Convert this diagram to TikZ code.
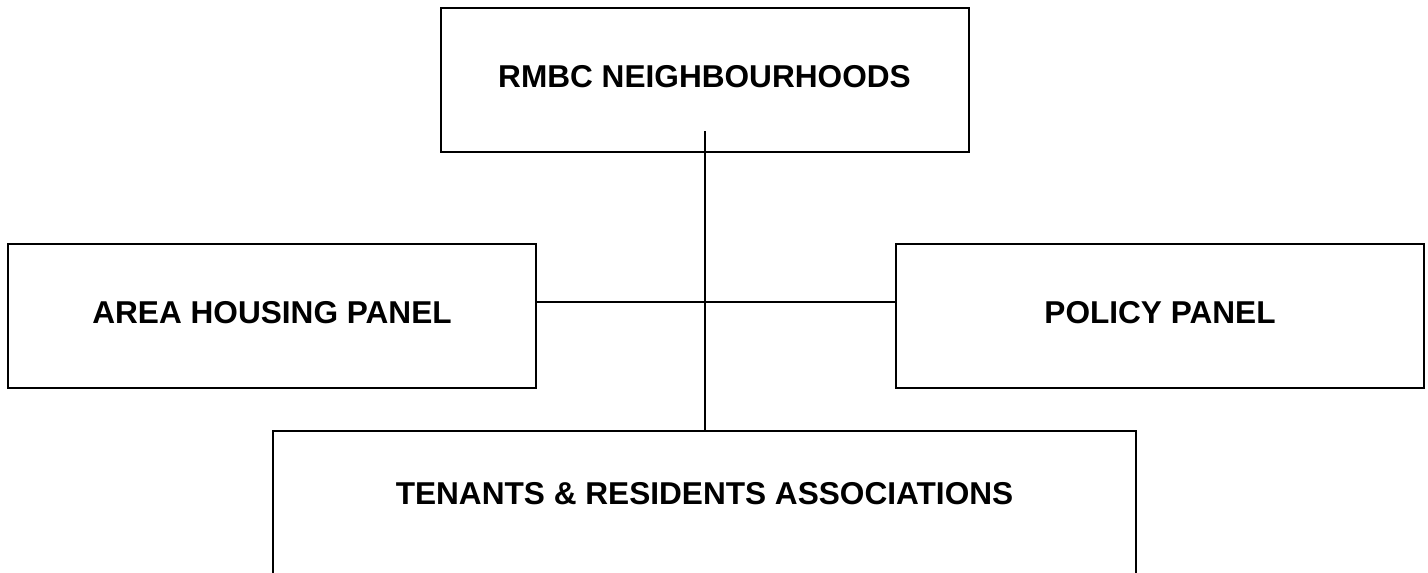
\documentclass[tikz,border=0pt]{standalone}
\usepackage{fontspec}
\setmainfont{Liberation Sans}
\usetikzlibrary{positioning,calc}

\begin{document}
\begin{tikzpicture}[
  x=0.75pt, y=-0.75pt,
  font=\fontsize{23.7}{28}\selectfont\bfseries,
  every node/.append style={align=center},
  box/.style={draw=black, line width=1.5pt, fill=white, minimum width=396pt, minimum height=108pt, inner sep=0pt, text depth=6pt},
  lbl/.style={inner sep=0pt},
  link/.style={draw=black, line width=1.5pt},
]
\useasboundingbox (0,0) rectangle (1428,572);
% top
\node[box] (rmbc) at (704.5,80) {RMBC NEIGHBOURHOODS};
% middle row
\node[box] (ahp) at (272,316) {AREA HOUSING PANEL};
\node[box] (pp) at (1160,316) {POLICY PANEL};
% bottom, runs off the page
\node[box, anchor=north, minimum width=647pt, minimum height=150pt] (tra) at (704.5,430) {};
\node[lbl] (traText) at (704.5,494) {TENANTS \& RESIDENTS ASSOCIATIONS};
% connectors
\coordinate (stem) at (704.5,131);
\coordinate (hub) at (704.5,302);
\draw[link] (stem) -- (tra.north);
\draw[link] (ahp.east |- hub) -- (pp.west |- hub);
\end{tikzpicture}
\end{document}
